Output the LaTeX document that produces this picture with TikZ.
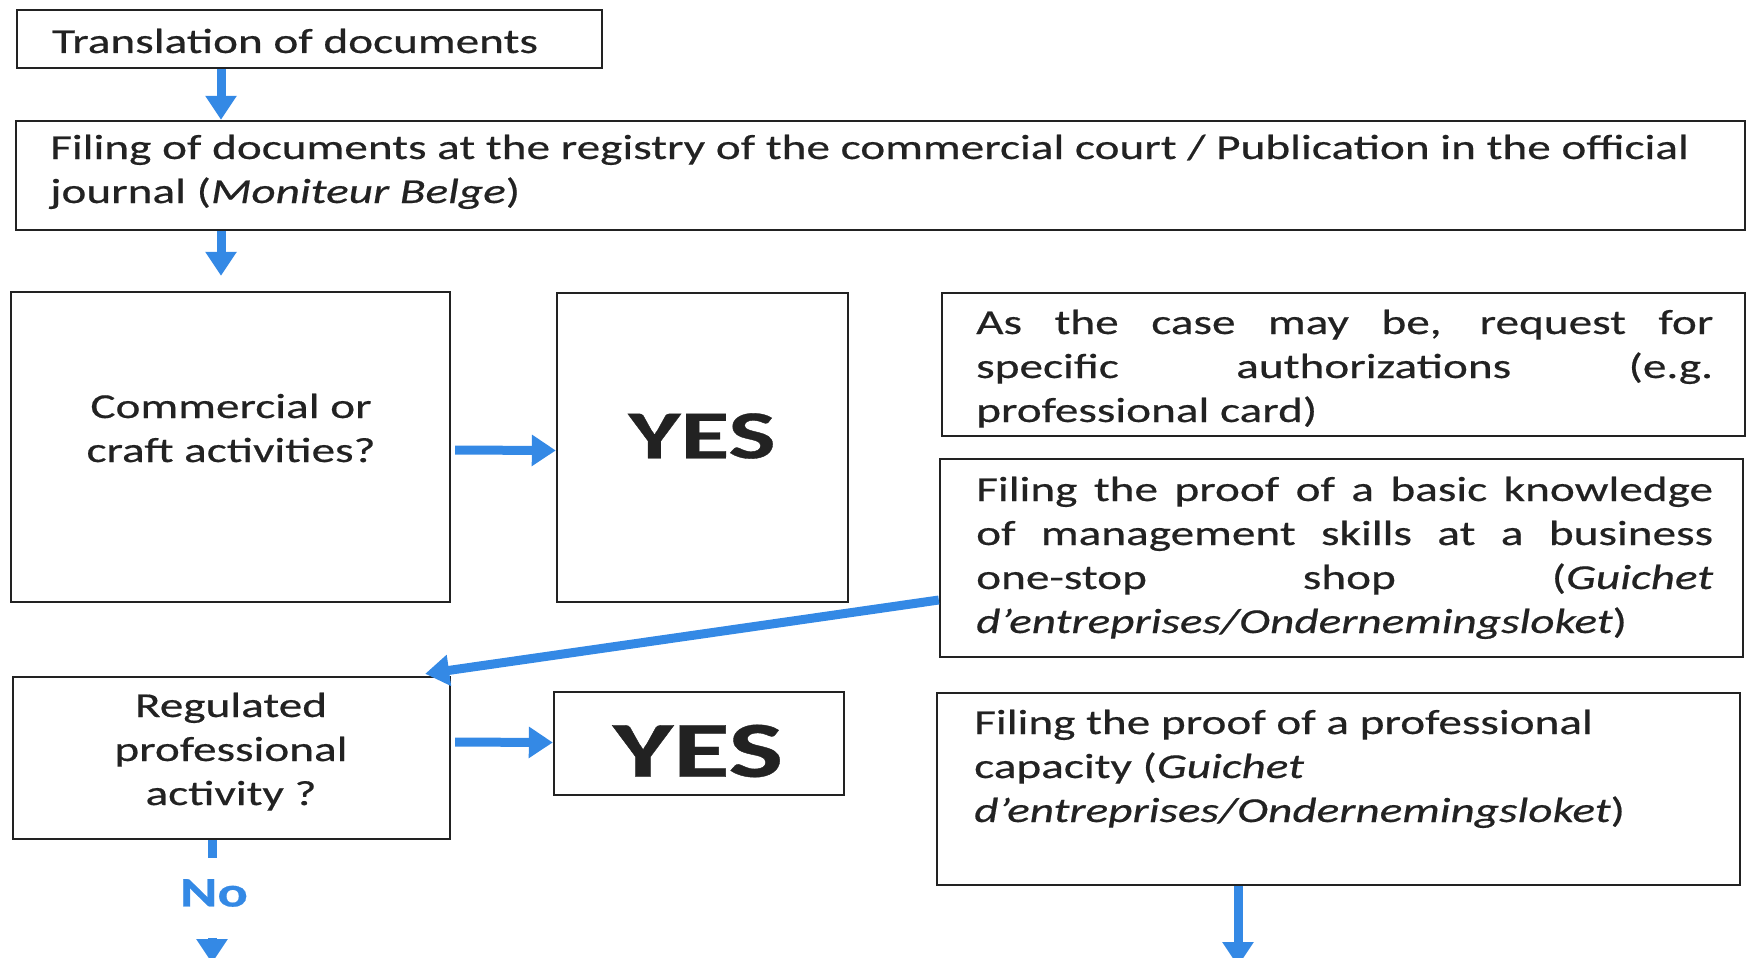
\documentclass[tikz,border=0pt]{standalone}
\usepackage{fontspec}
\setmainfont{Carlito}[FakeStretch=1.35,FakeBold=0.5]
\usetikzlibrary{arrows.meta}
\definecolor{flowblue}{RGB}{52,137,229}
\definecolor{ink}{RGB}{34,34,34}
\begin{document}
\begin{tikzpicture}[x=1pt,y=-1pt,
  box/.style={draw=ink, line width=2.4pt, rectangle, inner sep=0pt},
  txt/.style={inner sep=0pt, text=ink, font=\fontsize{35}{44}\selectfont},
  bigword/.style={inner sep=0pt, text=ink, font=\bfseries},
  flow/.style={draw=flowblue, line width=9pt, -{Triangle[width=30pt,length=24pt]}},
  shaft/.style={draw=flowblue, line width=9pt},
  label/.style={inner sep=0pt, text=flowblue, font=\fontsize{42}{50}\selectfont\bfseries}]
\useasboundingbox (0,0) rectangle (1749,958);
\clip (0,0) rectangle (1749,958);

% boxes
\node[box, minimum width=585pt,  minimum height=58pt]  (b1)  at (309.5,39)    {};
\node[box, minimum width=1729pt, minimum height=109pt] (b2)  at (880.5,175.5) {};
\node[box, minimum width=439pt,  minimum height=310pt] (act) at (230.5,447)   {};
\node[box, minimum width=291pt,  minimum height=309pt] (yes1) at (702.5,447.5) {};
\node[box, minimum width=803pt,  minimum height=143pt] (auth) at (1343.5,364.5) {};
\node[box, minimum width=803pt,  minimum height=198pt] (mgmt) at (1341.5,558)  {};
\node[box, minimum width=437pt,  minimum height=162pt] (reg)  at (231.5,758)   {};
\node[box, minimum width=290pt,  minimum height=103pt] (yes2) at (699,743.5)   {};
\node[box, minimum width=803pt,  minimum height=192pt] (cap)  at (1338.5,789)  {};

% texts (multi-line nodes are placed by the baseline of their last line)
\node[txt, anchor=base west] (t1) at (52,53) {Translation of documents};
\node[txt, anchor=base west, align=left] (t2) at (50,203)
  {Filing of documents at the registry of the commercial court / Publication in the official\\
   journal (\textit{Moniteur Belge})};
\node[txt, anchor=base, align=center] (tact) at (231,462) {Commercial or\\craft activities?};
\node[bigword] (ty1) at (702,436) {\resizebox{147pt}{45pt}{YES}};
\node[txt, anchor=base west, align=left] (tauth) at (976,422)
  {\makebox[737pt][s]{As the case may be, request for}\\
   \makebox[737pt][s]{specific authorizations (e.g.}\\
   professional card)};
\node[txt, anchor=base west, align=left] (tmgmt) at (976,633)
  {\makebox[737pt][s]{Filing the proof of a basic knowledge}\\
   \makebox[737pt][s]{of management skills at a business}\\
   \makebox[737pt][s]{one-stop shop (\textit{Guichet}}\\
   \textit{d’entreprises/Ondernemingsloket})};
\node[txt, anchor=base, align=center] (treg) at (231,805) {Regulated\\professional\\activity ?};
\node[bigword] (ty2) at (698,751) {\resizebox{170pt}{52pt}{YES}};
\node[txt, anchor=base west, align=left] (tcap) at (974,822)
  {Filing the proof of a professional\\
   capacity (\textit{Guichet}\\
   \textit{d’entreprises/Ondernemingsloket})};
\node[label] (no) at (214,893) {No};

% free ends of the open connectors
\coordinate (noHead) at (212,938);
\coordinate (noTip)  at (212,963);
\coordinate (capEnd) at (1238,966);

% connectors
\draw[flow] ([xshift=-88.5pt]b1.south) -- ([xshift=-659.5pt]b2.north);
\draw[flow, shorten >=15pt] ([xshift=-659.5pt]b2.south) -- ([xshift=-9.5pt]act.north);
\draw[flow, shorten <=4pt] ([yshift=-3pt]act.east) -- ([yshift=-3pt]yes1.west);
\draw[flow] ([yshift=-42pt]mgmt.west) -- ([xshift=-26pt,yshift=2pt]reg.north east);
\draw[flow, shorten <=4pt] ([yshift=16pt]reg.east) -- ([yshift=1pt]yes2.west);
\draw[shaft] ([xshift=-19.5pt]reg.south) -- ++(0,18);
\draw[flow] (noHead) -- (noTip);
\draw[flow] ([xshift=-100.5pt]cap.south) -- (capEnd);
\end{tikzpicture}
\end{document}
